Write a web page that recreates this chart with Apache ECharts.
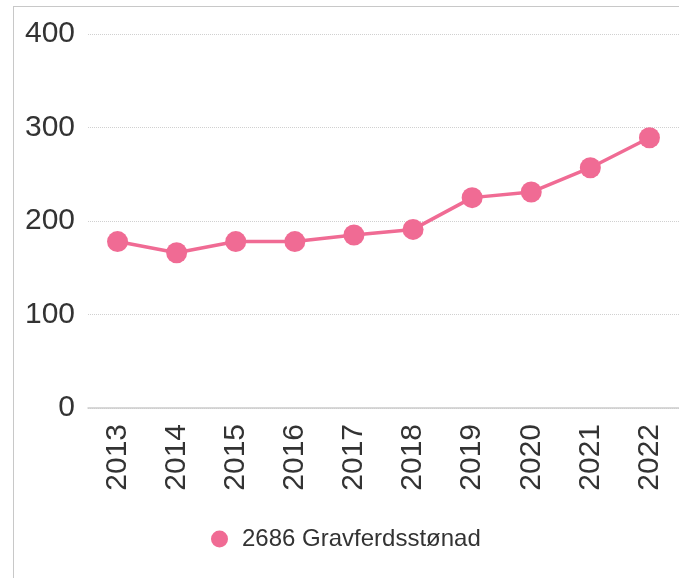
<!DOCTYPE html>
<html>
<head>
<meta charset="utf-8">
<script src="https://cdn.jsdelivr.net/npm/echarts@6/dist/echarts.min.js"></script>
<style>
    html, body { margin: 0; padding: 0; background: #fff; }
    #box {
        position: absolute;
        left: 13px;
        top: 6px;
        width: 666px;
        height: 572px;
        border-left: 1px solid #c8c8c8;
        border-top: 1px solid #c8c8c8;
        box-sizing: border-box;
    }
    #chart { width: 100%; height: 100%; }
</style>
</head>
<body>
<div id="box"><div id="chart"></div></div>
<script>
var years = ['2013', '2014', '2015', '2016', '2017', '2018', '2019', '2020', '2021', '2022'];
var gravferd = [178, 166, 178, 178, 185, 191, 225, 231, 257, 289];
var seriesName = '2686 Gravferdsstønad';
var yTicks = [0, 100, 200, 300, 400];

var font = '"Liberation Sans", Arial, sans-serif';
var pink = '#f06b94';

var chart = echarts.init(document.getElementById('chart'));
chart.setOption({
    animation: false,
    textStyle: { fontFamily: font },
    grid: {
        left: 74,
        top: 27,
        width: 594,
        bottom: 170
    },
    legend: {
        left: 192,
        top: 515,
        icon: 'circle',
        itemWidth: 35,
        itemHeight: 17,
        textStyle: { fontSize: 24, color: '#333', fontFamily: font },
        data: [seriesName]
    },
    xAxis: {
        type: 'category',
        data: years,
        axisLine: { lineStyle: { color: '#cccccc', width: 1.5 } },
        axisTick: { alignWithLabel: true, length: 8, lineStyle: { color: '#cccccc', width: 1.5 } },
        axisLabel: {
            rotate: 90,
            fontSize: 30,
            color: '#333',
            margin: 16,
            fontFamily: font
        }
    },
    yAxis: {
        type: 'value',
        min: yTicks[0],
        max: yTicks[yTicks.length - 1],
        interval: 100,
        axisLine: { show: false },
        axisTick: { show: false },
        axisLabel: { fontSize: 30, color: '#333', margin: 13, fontFamily: font },
        splitLine: { lineStyle: { type: 'dotted', color: '#d0d0d0', width: 1 } }
    },
    series: [
        {
            name: seriesName,
            type: 'line',
            data: gravferd,
            symbol: 'circle',
            symbolSize: 21,
            itemStyle: { color: pink },
            lineStyle: { color: pink, width: 3.5 }
        }
    ]
});
</script>
</body>
</html>
